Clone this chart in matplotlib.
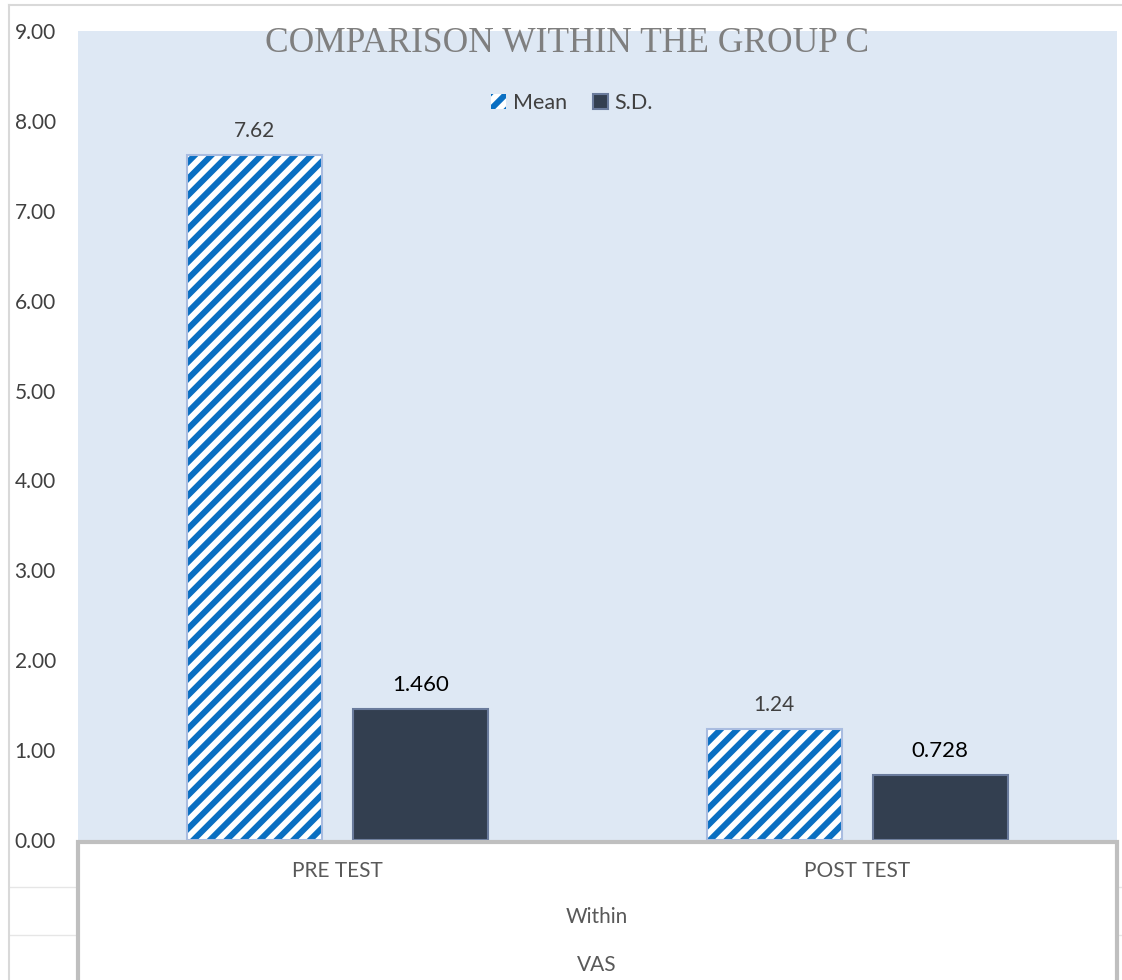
import numpy as np
import matplotlib
matplotlib.use("Agg")
import matplotlib.pyplot as plt
from matplotlib.patches import Rectangle
from matplotlib.lines import Line2D
from matplotlib.transforms import blended_transform_factory

# Data
categories = ["PRE TEST", "POST TEST"]
series_names = ["Mean", "S.D."]
mean_vals = [7.62, 1.24]
sd_vals = [1.460, 0.728]
mean_labels = ["7.62", "1.24"]
sd_labels = ["1.460", "0.728"]
y_ticks = [0, 1, 2, 3, 4, 5, 6, 7, 8, 9]
group_label = "Within"
outer_label = "VAS"
title = "COMPARISON WITHIN THE GROUP C"

plt.rcParams['font.family'] = ['Lato', 'DejaVu Sans']
plt.rcParams['hatch.linewidth'] = 4.3

W, H = 1122, 980
fig = plt.figure(figsize=(W / 100, H / 100), dpi=100)
ax = fig.add_axes([78 / W, 1 - 840 / H, (1117 - 78) / W, (840 - 31) / H])
ax.set_facecolor('#DEE8F4')

x = np.arange(len(categories))
w = 0.26
off = 0.16

# Mean bars: white with blue diagonal stripes
bars_mean = ax.bar(x - off, mean_vals, w, facecolor='white', edgecolor='#0A6FC2',
                   hatch='//', linewidth=0, label=series_names[0], zorder=2)
ax.bar(x - off, mean_vals, w, facecolor='none', edgecolor='#A9BCE0', linewidth=1.5, zorder=3)
# S.D. bars: dark navy
bars_sd = ax.bar(x + off, sd_vals, w, facecolor='#333F50', edgecolor='#6A7B9C',
                 linewidth=1.5, label=series_names[1], zorder=2)

for xi, v, t in zip(x - off, mean_vals, mean_labels):
    ax.annotate(t, (xi, v), xytext=(0, 10), textcoords='offset points', ha='center',
                va='bottom', fontsize=15, color='#404040')
for xi, v, t in zip(x + off, sd_vals, sd_labels):
    ax.annotate(t, (xi, v), xytext=(0, 10), textcoords='offset points', ha='center',
                va='bottom', fontsize=16, color='black')

ax.set_xlim(-0.5, 1.5)
ax.set_ylim(0, 9)
ax.set_yticks(y_ticks)
ax.set_yticklabels([f"{t:.2f}" for t in y_ticks])
ax.tick_params(axis='y', length=0, pad=16, labelsize=15, labelcolor='#404040')
ax.set_xticks([])
for s in ax.spines.values():
    s.set_visible(False)

# Category box below the plot
box = Rectangle((78 / W, -0.01), (1117 - 78) / W, 1 - 842 / H + 0.01,
                transform=fig.transFigure, facecolor='white', edgecolor='#BFBFBF',
                linewidth=3, zorder=5)
fig.patches.append(box)
for yy in [887, 935]:
    fig.add_artist(Line2D([9 / W, 78 / W], [1 - yy / H] * 2, color='#E6E6E6', lw=1))
    fig.add_artist(Line2D([1119 / W, 1], [1 - yy / H] * 2, color='#E6E6E6', lw=1))

# Outer chart border
fig.add_artist(Line2D([9 / W, 9 / W], [0, 1 - 5 / H], color='#D9D9D9', lw=1.5))
fig.add_artist(Line2D([9 / W, 1], [1 - 5 / H] * 2, color='#D9D9D9', lw=1.5))

trans = blended_transform_factory(ax.transData, fig.transFigure)
for xi, c in zip(x, categories):
    fig.text(xi, 1 - 871 / H, c, transform=trans, ha='center', va='center',
             fontsize=15, color='#595959', zorder=6)
fig.text(597 / W, 1 - 917 / H, group_label, ha='center', va='center',
         fontsize=15, color='#595959', zorder=6)
fig.text(597 / W, 1 - 965 / H, outer_label, ha='center', va='center',
         fontsize=15, color='#595959', zorder=6)

fig.text(567 / W, 1 - 44 / H, title, ha='center', va='center', fontsize=25.5,
         family='Liberation Serif', color='#7F7F7F')

ax.legend(handles=[bars_mean, bars_sd], loc='center', bbox_to_anchor=(572 / W, 1 - 103 / H),
          bbox_transform=fig.transFigure, ncol=2, frameon=False, fontsize=15.5,
          handlelength=0.7, handleheight=0.7, handletextpad=0.3, columnspacing=1.2,
          labelcolor='#404040')

fig.savefig("out.png", dpi=100)
